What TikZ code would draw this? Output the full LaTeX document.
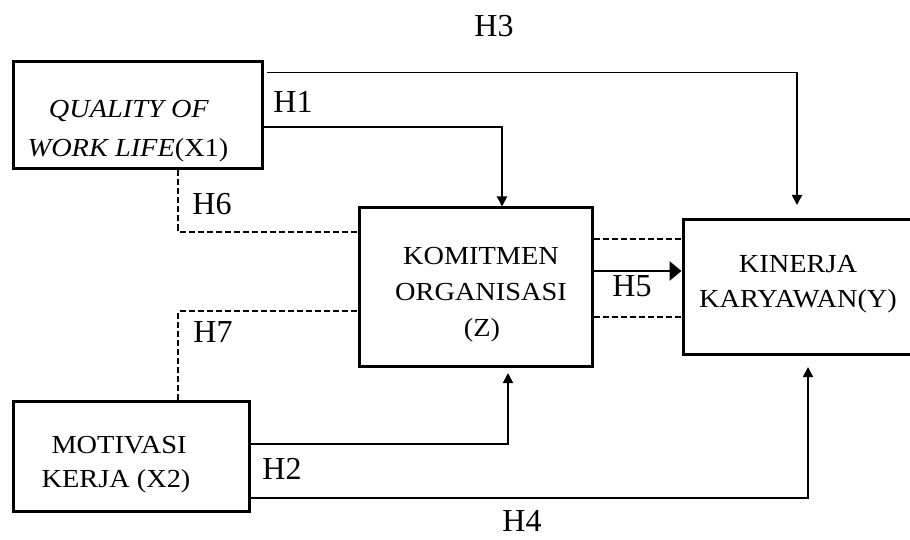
\documentclass[tikz,border=0pt]{standalone}
\usepackage{fontspec}
\setmainfont{Liberation Serif}
\newfontfamily\boxfont[FakeStretch=1.09]{Liberation Serif}
\usetikzlibrary{arrows.meta}
\begin{document}
\begin{tikzpicture}[x=1pt,y=-1pt,
  box/.style={draw=black,line width=3pt,inner sep=0pt,minimum width=#1},
  boxtext/.style={anchor=base,inner sep=0pt,font=\boxfont\fontsize{26}{30}\selectfont},
  hlab/.style={inner sep=0pt,font=\fontsize{32}{36}\selectfont},
  arr/.style={line width=1.8pt,-{Triangle[length=10pt,width=10pt]}},
  bigarr/.style={line width=2.8pt,-{Triangle[length=12pt,width=19pt]}},
  dsh/.style={line width=1.8pt,dash pattern=on 6pt off 3pt}]
\useasboundingbox (0,0) rectangle (910,540);
% boxes
\node[box=249pt,minimum height=107pt] (x1) at (137.5,115.5) {};
\node[box=233pt,minimum height=158pt] (z) at (475.5,287) {};
\node[box=232pt,minimum height=134pt] (y) at (799,287) {};
\node[box=236pt,minimum height=110pt] (x2) at (131,456) {};
% box texts
\node[boxtext] (x1a) at (129,118) {\textit{QUALITY OF}};
\node[boxtext] (x1b) at (128,157) {\textit{WORK LIFE}(X1)};
\node[boxtext] (za) at (481,264) {KOMITMEN};
\node[boxtext] (zb) at (481,300) {ORGANISASI};
\node[boxtext] (zc) at (482,336) {(Z)};
\node[boxtext] (ya) at (798,272) {KINERJA};
\node[boxtext] (yb) at (798,307) {KARYAWAN(Y)};
\node[boxtext] (x2a) at (119,453) {MOTIVASI};
\node[boxtext] (x2b) at (116,487) {KERJA (X2)};
% free ends
\coordinate (h3tip) at (797,205);
\coordinate (h2tip) at (508,373);
\coordinate (h4tip) at (808,367);
% connectors
\draw[arr] ([shift={(3pt,-12pt)}]x1.north east) -| (h3tip);
\draw[arr] ([yshift=-11.5pt]x1.east) -| ([xshift=26.5pt]z.north);
\draw[arr] ([yshift=12pt]x2.east) -| (h2tip);
\draw[arr] ([yshift=-42pt]x2.east) -| (h4tip);
\draw[bigarr] ([yshift=16pt]z.east) -- ([yshift=16pt]y.west);
\draw[dsh] ([yshift=48pt]z.east) -- ([yshift=48pt]y.west);
\draw[dsh] ([yshift=-30pt]z.east) -- ([yshift=-30pt]y.west);
\draw[dsh] ([xshift=40.5pt]x1.south) |- ([yshift=55pt]z.west);
\draw[dsh] ([xshift=47pt]x2.north) |- ([yshift=-24pt]z.west);
% labels
\node[hlab] (h3) at (494,26) {H3};
\node[hlab] (h1) at (293,102) {H1};
\node[hlab] (h6) at (212,204) {H6};
\node[hlab] (h7) at (213,332) {H7};
\node[hlab] (h5) at (632,286) {H5};
\node[hlab] (h2) at (282,469) {H2};
\node[hlab] (h4) at (522,521) {H4};
\end{tikzpicture}
\end{document}
